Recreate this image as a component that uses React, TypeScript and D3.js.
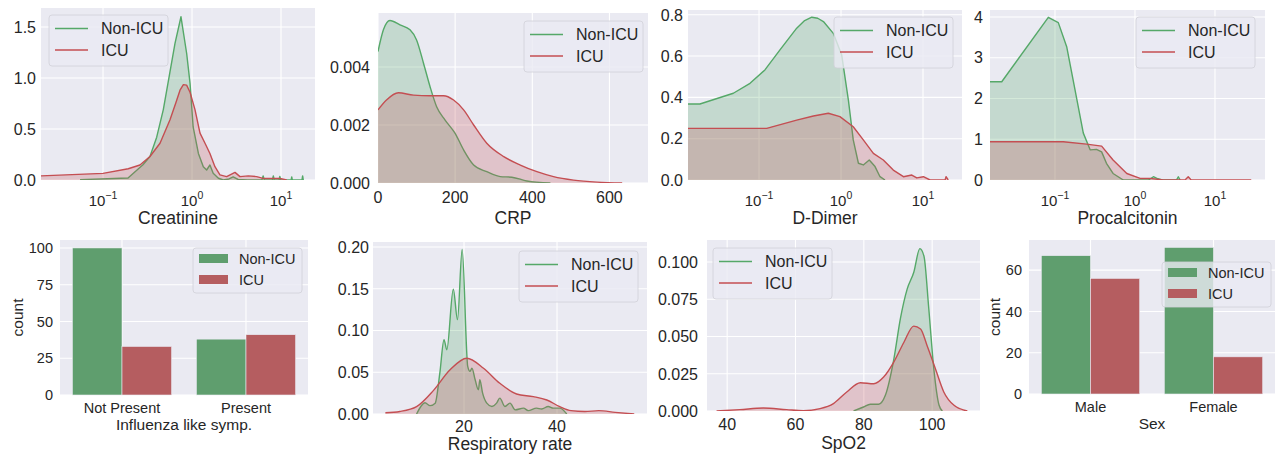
import React from "react";
import * as d3 from "d3";

type Pt = [number, number];

const FONT = "'Liberation Sans', Arial, Helvetica, sans-serif";
const BG = "#eaeaf2";
const INK = "#262626";
const LINE_COLORS = ["#55a868", "#c44e52"];
const BAR_COLORS = ["#5f9e6e", "#b55d60"];

const groups = ["Non-ICU", "ICU"];

// ---- KDE curves: [value, density] ----
const creatinineNonICU: Pt[] = [
  [0.0552, 0.003], [0.191, 0.02], [0.281, 0.15], [0.337, 0.23], [0.401, 0.42], [0.476, 0.69],
  [0.644, 1.34], [0.752, 1.6], [0.871, 1.24], [0.95, 0.95], [1.03, 0.52], [1.18, 0.26],
  [1.34, 0.13], [1.46, 0.098], [1.59, 0.147], [1.73, 0.066], [1.98, 0.017], [2.25, 0],
  [2.6, 0.01], [2.9, 0.03], [3.3, 0.005], [4.2, 0], [6.1, 0], [6.3, 0.04], [6.5, 0],
  [8.0, 0], [8.2, 0.04], [8.4, 0], [9.5, 0], [9.7, 0.035], [9.9, 0], [13.0, 0], [13.2, 0.03],
  [13.4, 0], [17.2, 0], [17.5, 0.04], [17.8, 0],
];
const creatinineICU: Pt[] = [
  [0.0201, 0.04], [0.1, 0.065], [0.192, 0.11], [0.26, 0.147], [0.337, 0.23], [0.437, 0.36],
  [0.566, 0.59], [0.66, 0.76], [0.733, 0.88], [0.8, 0.935], [0.87, 0.93], [0.95, 0.86],
  [1.08, 0.69], [1.23, 0.46], [1.4, 0.36], [1.59, 0.26], [1.81, 0.13], [2.06, 0.05],
  [2.45, 0.033], [3.04, 0.075], [3.46, 0.033], [4.29, 0.04], [5.33, 0.033], [6.28, 0.016],
  [9.7, 0.016], [11.6, 0],
];

const crpNonICU: Pt[] = [
  [0, 0.00453], [14, 0.00528], [31, 0.0056], [57, 0.00545], [83, 0.00528], [100, 0.00493],
  [118, 0.00413], [135, 0.00332], [152, 0.00263], [174, 0.00217], [200, 0.00171],
  [222, 0.00114], [248, 0.00062], [282, 0.00039], [317, 0.00022], [347, 0.0002],
  [386, 0.00007], [447, 0],
];
const crpICU: Pt[] = [
  [0, 0.00252], [22, 0.00286], [53, 0.00311], [92, 0.00303], [135, 0.00301], [170, 0.00301],
  [196, 0.00286], [222, 0.00252], [248, 0.002], [282, 0.00137], [326, 0.00091],
  [369, 0.00062], [412, 0.00039], [455, 0.00022], [507, 0.0001], [568, 0.00003], [633, 0],
];

const dDimerNonICU: Pt[] = [
  [0.0136, 0.368], [0.019, 0.368], [0.0486, 0.42], [0.0776, 0.468], [0.118, 0.533],
  [0.18, 0.63], [0.288, 0.735], [0.36, 0.772], [0.44, 0.788], [0.52, 0.783], [0.61, 0.767],
  [0.805, 0.71], [1.02, 0.605], [1.23, 0.387], [1.41, 0.194], [1.63, 0.081], [1.87, 0.073],
  [2.21, 0.097], [2.6, 0.065], [2.99, 0.016], [3.44, 0],
];
const dDimerICU: Pt[] = [
  [0.0136, 0.25], [0.124, 0.25], [0.288, 0.29], [0.46, 0.31], [0.7, 0.323], [0.97, 0.307],
  [1.41, 0.258], [1.87, 0.194], [2.48, 0.129], [3.28, 0.097], [4.34, 0.048], [5.77, 0.016],
  [7.3, 0.024], [8.4, 0.01], [10.1, 0.016], [12.2, 0], [18.6, 0], [19.1, 0.016], [20.3, 0],
];

const procalcitoninNonICU: Pt[] = [
  [0.0154, 2.41], [0.0216, 2.41], [0.0825, 3.99], [0.11, 3.86], [0.14, 3.27], [0.178, 2.21],
  [0.226, 1.15], [0.275, 0.74], [0.33, 0.75], [0.383, 0.69], [0.44, 0.41], [0.532, 0.16],
  [0.715, 0], [1.47, 0], [1.7, 0.08], [1.93, 0.03], [2.2, 0], [3.3, 0], [3.48, 0.08], [3.67, 0],
];
const procalcitoninICU: Pt[] = [
  [0.0154, 0.94], [0.127, 0.94], [0.248, 0.88], [0.383, 0.83], [0.532, 0.49], [0.79, 0.16],
  [1.16, 0.04], [1.54, 0.04], [2.26, 0], [4.22, 0], [4.63, 0.08], [5.04, 0], [28.4, 0],
];

const respNonICU: Pt[] = [
  [9.8, 0], [11.6, 0.0135], [12.7, 0.01], [13.8, 0.013], [14.8, 0.049], [15.7, 0.089],
  [16.3, 0.077], [17.7, 0.1495], [18.6, 0.113], [19.6, 0.197], [20.8, 0.057], [21.3, 0.051],
  [21.7, 0.055], [22.4, 0.041], [23.1, 0.029], [23.4, 0.041], [24, 0.025], [24.9, 0.013],
  [26, 0.009], [27, 0.013], [27.7, 0.019], [28.8, 0.009], [29.9, 0.013], [31, 0.005],
  [32.8, 0.007], [33.8, 0.004], [35.6, 0.007], [36.7, 0.006], [38.1, 0.009], [39.2, 0.007],
  [40.6, 0.007], [42.1, 0],
];
const respICU: Pt[] = [
  [3.1, 0.0015], [6.2, 0.003], [9.8, 0.0088], [13.4, 0.028], [17, 0.053], [20.6, 0.0668],
  [24.2, 0.0548], [27.7, 0.0368], [31.3, 0.024], [34.9, 0.0208], [37.8, 0.0168],
  [40.6, 0.0088], [43, 0.004], [46, 0.003], [49, 0.004], [52.5, 0.002], [56.6, 0],
];

const spo2NonICU: Pt[] = [
  [77, 0], [79.9, 0.0027], [81.9, 0.0045], [84.3, 0.0045], [86.3, 0.0105], [88.8, 0.035],
  [90.7, 0.062], [92.7, 0.082], [94.6, 0.093], [96.4, 0.109], [97.6, 0.104], [99, 0.069],
  [100.5, 0.028], [102, 0.004], [103, 0],
];
const spo2ICU: Pt[] = [
  [36.9, 0], [43.7, 0.0009], [50.6, 0.002], [57.4, 0.0009], [62.3, 0.0002], [67.2, 0.0016],
  [71.1, 0.005], [75, 0.0128], [79, 0.019], [82.9, 0.0183], [85.8, 0.0228], [88.8, 0.033],
  [91.7, 0.046], [94.6, 0.057], [96.6, 0.055], [98.5, 0.044], [101, 0.028], [103.4, 0.0128],
  [106.4, 0.0038], [110.3, 0],
];

// ---- counts ----
const influenzaCategories = ["Not Present", "Present"];
const influenzaNonICU = [100, 38];
const influenzaICU = [33, 41];
const sexCategories = ["Male", "Female"];
const sexNonICU = [67, 71];
const sexICU = [56, 18];

// ---- ticks ----
const logXTicks = [0.1, 1, 10];
const creatinineYTicks = [0, 0.5, 1.0, 1.5];
const crpXTicks = [0, 200, 400, 600];
const crpYTicks = [0, 0.002, 0.004];
const dDimerYTicks = [0, 0.2, 0.4, 0.6, 0.8];
const procalcitoninYTicks = [0, 1, 2, 3, 4];
const respXTicks = [20, 40];
const respYTicks = [0, 0.05, 0.1, 0.15, 0.2];
const spo2XTicks = [40, 60, 80, 100];
const spo2YTicks = [0, 0.025, 0.05, 0.075, 0.1];
const influenzaYTicks = [0, 25, 50, 75, 100];
const sexYTicks = [0, 20, 40, 60];

interface Box { x0: number; x1: number; y0: number; y1: number }

interface KdeCfg extends Box {
  id: string;
  xDomain: [number, number];
  yMax: number;
  log: boolean;
  xTicks: number[];
  yTicks: number[];
  yFmt: (v: number) => string;
  xlabel: string;
  legend: [number, number];
  tickGap: number;
  xTickDy: number;
  xLabelDy: number;
}

const TICK_FS = 16;
const LABEL_FS = 17.5;
const LEGEND_FS = 16;

function LineLegend({ x, y }: { x: number; y: number }) {
  return (
    <g>
      <rect x={x} y={y} width={119} height={51} rx={3} fill={BG} fillOpacity={0.8}
        stroke="#d0d0d8" strokeWidth={0.8} />
      {groups.map((g, i) => {
        const cy = y + 13.5 + i * 21.5;
        return (
          <g key={g}>
            <line x1={x + 6} x2={x + 39} y1={cy} y2={cy} stroke={LINE_COLORS[i]} strokeWidth={1.5} />
            <text x={x + 52} y={cy} dy="0.36em" fontSize={LEGEND_FS} fill={INK}>{g}</text>
          </g>
        );
      })}
    </g>
  );
}

function PatchLegend({ x, y }: { x: number; y: number }) {
  return (
    <g>
      <rect x={x} y={y} width={109} height={45} rx={3} fill={BG} fillOpacity={0.8}
        stroke="#d0d0d8" strokeWidth={0.8} />
      {groups.map((g, i) => {
        const cy = y + 10.5 + i * 21;
        return (
          <g key={g}>
            <rect x={x + 6} y={cy - 4.5} width={29} height={9} fill={BAR_COLORS[i]} />
            <text x={x + 46} y={cy} dy="0.36em" fontSize={14.5} fill={INK}>{g}</text>
          </g>
        );
      })}
    </g>
  );
}

function logExp(v: number) {
  const e = Math.round(Math.log10(v));
  return e < 0 ? `\u2212${-e}` : `${e}`;
}

function KdePanel({ cfg, series }: { cfg: KdeCfg; series: Pt[][] }) {
  const x = cfg.log
    ? d3.scaleLog().domain(cfg.xDomain).range([cfg.x0, cfg.x1])
    : d3.scaleLinear().domain(cfg.xDomain).range([cfg.x0, cfg.x1]);
  const y = d3.scaleLinear().domain([0, cfg.yMax]).range([cfg.y1, cfg.y0]);
  // log panels were evaluated on a coarse linear grid, so they look piecewise straight
  const curve = cfg.log ? d3.curveLinear : d3.curveMonotoneX;
  const area = d3.area<Pt>().x((d) => x(d[0])).y0(y(0)).y1((d) => y(d[1])).curve(curve);
  const line = d3.line<Pt>().x((d) => x(d[0])).y((d) => y(d[1])).curve(curve);
  const clip = `clip-${cfg.id}`;
  return (
    <g>
      <defs>
        <clipPath id={clip}>
          <rect x={cfg.x0} y={cfg.y0} width={cfg.x1 - cfg.x0} height={cfg.y1 - cfg.y0} />
        </clipPath>
      </defs>
      <rect x={cfg.x0} y={cfg.y0} width={cfg.x1 - cfg.x0} height={cfg.y1 - cfg.y0} fill={BG} />
      {cfg.xTicks.map((t) => (
        <line key={`gx${t}`} x1={x(t)} x2={x(t)} y1={cfg.y0} y2={cfg.y1} stroke="#fff" strokeWidth={1.1} />
      ))}
      {cfg.yTicks.map((t) => (
        <line key={`gy${t}`} x1={cfg.x0} x2={cfg.x1} y1={y(t)} y2={y(t)} stroke="#fff" strokeWidth={1.1} />
      ))}
      <g clipPath={`url(#${clip})`}>
        {series.map((s, i) => (
          <g key={i}>
            <path d={area(s) ?? ""} fill={LINE_COLORS[i]} fillOpacity={0.25} />
            <path d={line(s) ?? ""} fill="none" stroke={LINE_COLORS[i]} strokeWidth={1.4}
              strokeLinejoin="round" />
          </g>
        ))}
      </g>
      {cfg.yTicks.map((t) => (
        <text key={`ty${t}`} x={cfg.x0 - cfg.tickGap} y={y(t)} dy="0.36em" textAnchor="end"
          fontSize={TICK_FS} fill={INK}>{cfg.yFmt(t)}</text>
      ))}
      {cfg.xTicks.map((t) =>
        cfg.log ? (
          <text key={`tx${t}`} x={x(t)} y={cfg.y1 + cfg.xTickDy} textAnchor="middle" fontSize={15} fill={INK}>
            10<tspan dy={-6.5} fontSize={10.5}>{logExp(t)}</tspan>
          </text>
        ) : (
          <text key={`tx${t}`} x={x(t)} y={cfg.y1 + cfg.xTickDy} textAnchor="middle" fontSize={TICK_FS} fill={INK}>
            {t}
          </text>
        )
      )}
      <text x={(cfg.x0 + cfg.x1) / 2} y={cfg.y1 + cfg.xLabelDy} textAnchor="middle" fontSize={LABEL_FS} fill={INK}>
        {cfg.xlabel}
      </text>
      <LineLegend x={cfg.legend[0]} y={cfg.legend[1]} />
    </g>
  );
}

interface BarCfg extends Box {
  yMax: number;
  yTicks: number[];
  xlabel: string;
  legend: [number, number];
  tickGap: number;
  countX: number;
}

function BarPanel({ cfg, categories, values }: { cfg: BarCfg; categories: string[]; values: number[][] }) {
  const x = d3.scaleBand().domain(categories).range([cfg.x0, cfg.x1]).paddingInner(0.2).paddingOuter(0.1);
  const hue = d3.scaleBand().domain(groups).range([0, x.bandwidth()]);
  const y = d3.scaleLinear().domain([0, cfg.yMax]).range([cfg.y1, cfg.y0]);
  const cy = (cfg.y0 + cfg.y1) / 2;
  return (
    <g>
      <rect x={cfg.x0} y={cfg.y0} width={cfg.x1 - cfg.x0} height={cfg.y1 - cfg.y0} fill={BG} />
      {categories.map((c) => (
        <line key={`gx${c}`} x1={x(c)! + x.bandwidth() / 2} x2={x(c)! + x.bandwidth() / 2}
          y1={cfg.y0} y2={cfg.y1} stroke="#fff" strokeWidth={1.1} />
      ))}
      {cfg.yTicks.map((t) => (
        <line key={`gy${t}`} x1={cfg.x0} x2={cfg.x1} y1={y(t)} y2={y(t)} stroke="#fff" strokeWidth={1.1} />
      ))}
      {groups.map((g, gi) =>
        categories.map((c, ci) => (
          <rect key={`${g}${c}`} x={x(c)! + hue(g)!} width={hue.bandwidth()} y={y(values[gi][ci])}
            height={y(0) - y(values[gi][ci])} fill={BAR_COLORS[gi]} stroke="#eaeaf2" strokeWidth={0.6} />
        ))
      )}
      {cfg.yTicks.map((t) => (
        <text key={`ty${t}`} x={cfg.x0 - cfg.tickGap} y={y(t)} dy="0.36em" textAnchor="end"
          fontSize={14.5} fill={INK}>{t}</text>
      ))}
      {categories.map((c) => (
        <text key={`tx${c}`} x={x(c)! + x.bandwidth() / 2} y={cfg.y1 + 17.5} textAnchor="middle"
          fontSize={14.5} fill={INK}>{c}</text>
      ))}
      <text x={(cfg.x0 + cfg.x1) / 2} y={cfg.y1 + 34.5} textAnchor="middle" fontSize={15.5} fill={INK}>
        {cfg.xlabel}
      </text>
      <text transform={`translate(${cfg.countX},${cy}) rotate(-90)`} textAnchor="middle" fontSize={15.5} fill={INK}>
        count
      </text>
      <PatchLegend x={cfg.legend[0]} y={cfg.legend[1]} />
    </g>
  );
}

const f1 = d3.format(".1f");
const f2 = d3.format(".2f");
const f3 = d3.format(".3f");
const fd = d3.format("d");

const creatinineCfg: KdeCfg = {
  id: "creat", x0: 41, x1: 315, y0: 8, y1: 180, xDomain: [0.0201, 24.1], yMax: 1.686, log: true,
  xTicks: logXTicks, yTicks: creatinineYTicks, yFmt: f1, xlabel: "Creatinine",
  legend: [49, 15], tickGap: 5, xTickDy: 25.5, xLabelDy: 44,
};
const crpCfg: KdeCfg = {
  id: "crp", x0: 378, x1: 648, y0: 13, y1: 183, xDomain: [0, 700], yMax: 0.00586, log: false,
  xTicks: crpXTicks, yTicks: crpYTicks, yFmt: f3, xlabel: "CRP",
  legend: [524, 21], tickGap: 8, xTickDy: 19.5, xLabelDy: 40.5,
};
const dDimerCfg: KdeCfg = {
  id: "ddim", x0: 688, x1: 962, y0: 10, y1: 180, xDomain: [0.0136, 29.9], yMax: 0.823, log: true,
  xTicks: logXTicks, yTicks: dDimerYTicks, yFmt: f1, xlabel: "D-Dimer",
  legend: [834, 17], tickGap: 5, xTickDy: 25.5, xLabelDy: 44,
};
const procalCfg: KdeCfg = {
  id: "procal", x0: 990, x1: 1265, y0: 10, y1: 180, xDomain: [0.0154, 42.2], yMax: 4.17, log: true,
  xTicks: logXTicks, yTicks: procalcitoninYTicks, yFmt: fd, xlabel: "Procalcitonin",
  legend: [1136, 17], tickGap: 7, xTickDy: 25.5, xLabelDy: 44,
};
const respCfg: KdeCfg = {
  id: "resp", x0: 373, x1: 647, y0: 242, y1: 414, xDomain: [0.43, 59.35], yMax: 0.206, log: false,
  xTicks: respXTicks, yTicks: respYTicks, yFmt: f2, xlabel: "Respiratory rate",
  legend: [519, 251], tickGap: 4, xTickDy: 17.5, xLabelDy: 35.5,
};
const spo2Cfg: KdeCfg = {
  id: "spo2", x0: 707, x1: 980, y0: 240, y1: 411, xDomain: [34.1, 114], yMax: 0.1148, log: false,
  xTicks: spo2XTicks, yTicks: spo2YTicks, yFmt: f3, xlabel: "SpO2",
  legend: [713, 248], tickGap: 9, xTickDy: 19, xLabelDy: 37.5,
};
const influenzaCfg: BarCfg = {
  x0: 60, x1: 308, y0: 240, y1: 395, yMax: 105.4, yTicks: influenzaYTicks,
  xlabel: "Influenza like symp.", legend: [193, 248], tickGap: 7, countX: 23,
};
const sexCfg: BarCfg = {
  x0: 1029, x1: 1275, y0: 240, y1: 394, yMax: 74.6, yTicks: sexYTicks,
  xlabel: "Sex", legend: [1162, 262], tickGap: 7, countX: 1000,
};

export default function App() {
  return (
    <div style={{ position: "absolute", left: 0, top: 0, background: "#fff" }}>
      <svg width={1281} height={455} style={{ display: "block", fontFamily: FONT }}>
        <rect width={1281} height={455} fill="#fff" />
        <KdePanel cfg={creatinineCfg} series={[creatinineNonICU, creatinineICU]} />
        <KdePanel cfg={crpCfg} series={[crpNonICU, crpICU]} />
        <KdePanel cfg={dDimerCfg} series={[dDimerNonICU, dDimerICU]} />
        <KdePanel cfg={procalCfg} series={[procalcitoninNonICU, procalcitoninICU]} />
        <BarPanel cfg={influenzaCfg} categories={influenzaCategories} values={[influenzaNonICU, influenzaICU]} />
        <KdePanel cfg={respCfg} series={[respNonICU, respICU]} />
        <KdePanel cfg={spo2Cfg} series={[spo2NonICU, spo2ICU]} />
        <BarPanel cfg={sexCfg} categories={sexCategories} values={[sexNonICU, sexICU]} />
      </svg>
    </div>
  );
}
